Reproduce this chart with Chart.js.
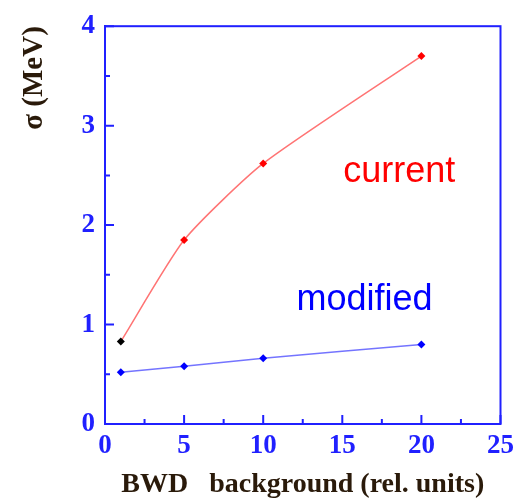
<!DOCTYPE html>
<html>
<head>
<meta charset="utf-8">
<script src="https://cdn.jsdelivr.net/npm/chart.js@4"></script>
<style>
  html, body { margin: 0; padding: 0; background: #fff; }
  #wrap { width: 520px; height: 500px; }
</style>
</head>
<body>
<div id="wrap"><canvas id="sigmaChart" width="520" height="500"></canvas></div>
<script>
// values
const background = [1, 5, 10, 20];
const sigmaCurrent = [0.83, 1.85, 2.62, 3.70];
const sigmaModified = [0.52, 0.58, 0.66, 0.80];
const seriesNames = ['current', 'modified'];

const axisBlue = '#2020ff';
const titleColor = '#2a1a0a';

function toPoints(xs, ys) {
    return xs.map((x, i) => ({ x: x, y: ys[i] }));
}

// inward major/minor ticks + closed box, like the original plot
const frameTicks = {
    id: 'frameTicks',
    afterDatasetsDraw(chart) {
        const ctx = chart.ctx;
        const area = chart.chartArea;
        const xs = chart.scales.x;
        const ys = chart.scales.y;
        ctx.save();
        ctx.strokeStyle = axisBlue;
        ctx.lineWidth = 2;
        ctx.strokeRect(area.left, area.top, area.right - area.left, area.bottom - area.top);
        ctx.beginPath();
        for (let v = 0; v <= 25; v += 2.5) {
            const px = xs.getPixelForValue(v);
            const len = (v % 5 === 0) ? 9 : 5;
            ctx.moveTo(px, area.bottom);
            ctx.lineTo(px, area.bottom - len);
        }
        for (let v = 0; v <= 4; v += 0.5) {
            const py = ys.getPixelForValue(v);
            const len = (v % 1 === 0) ? 9 : 5;
            ctx.moveTo(area.left, py);
            ctx.lineTo(area.left + len, py);
        }
        ctx.stroke();

        // series labels inside the plot
        ctx.font = '36px "Liberation Sans", Arial, sans-serif';
        ctx.textAlign = 'center';
        ctx.textBaseline = 'middle';
        ctx.fillStyle = '#ff0000';
        ctx.fillText(seriesNames[0], xs.getPixelForValue(18.6), ys.getPixelForValue(2.53));
        ctx.fillStyle = '#0000ff';
        ctx.fillText(seriesNames[1], xs.getPixelForValue(16.4), ys.getPixelForValue(1.25));
        ctx.restore();
    }
};

const data = {
    datasets: [
        {
            label: seriesNames[0],
            data: toPoints(background, sigmaCurrent),
            showLine: true,
            tension: 0.2,
            borderColor: 'rgba(255, 70, 70, 0.75)',
            borderWidth: 1.5,
            pointStyle: 'rectRot',
            pointRadius: 4,
            pointBorderWidth: 0,
            pointBackgroundColor: ['#000000', '#ff0000', '#ff0000', '#ff0000']
        },
        {
            label: seriesNames[1],
            data: toPoints(background, sigmaModified),
            showLine: true,
            tension: 0.2,
            borderColor: 'rgba(70, 70, 255, 0.75)',
            borderWidth: 1.5,
            pointStyle: 'rectRot',
            pointRadius: 4,
            pointBorderWidth: 0,
            pointBackgroundColor: '#0000ff'
        }
    ]
};

const config = {
    type: 'scatter',
    data: data,
    plugins: [frameTicks],
    options: {
        responsive: false,
        animation: false,
        layout: { padding: { left: 0, right: 15, top: 20, bottom: 0 } },
        plugins: {
            legend: { display: false },
            tooltip: { enabled: false }
        },
        scales: {
            x: {
                type: 'linear',
                min: 0,
                max: 25,
                ticks: {
                    stepSize: 5,
                    padding: 6,
                    color: axisBlue,
                    font: { family: '"Liberation Serif", "Times New Roman", serif', size: 27, weight: 'bold' }
                },
                grid: { drawOnChartArea: false, drawTicks: false },
                border: { display: true, color: axisBlue, width: 2 },
                title: {
                    display: true,
                    text: 'BWD   background (rel. units)',
                    color: titleColor,
                    padding: { top: 0, bottom: 0 },
                    font: { family: '"Liberation Serif", "Times New Roman", serif', size: 28, weight: 'bold', lineHeight: 1.1 }
                },
                afterFit(scale) { scale.height = 76; }
            },
            y: {
                min: 0,
                max: 4,
                ticks: {
                    stepSize: 1,
                    padding: 10,
                    color: axisBlue,
                    font: { family: '"Liberation Serif", "Times New Roman", serif', size: 27, weight: 'bold' }
                },
                grid: { drawOnChartArea: false, drawTicks: false },
                border: { display: true, color: axisBlue, width: 2 },
                title: {
                    display: true,
                    text: 'σ (MeV)',
                    align: 'end',
                    color: titleColor,
                    padding: { top: 19, bottom: 0 },
                    font: { family: '"Liberation Serif", "Times New Roman", serif', size: 29, weight: 'bold', lineHeight: 1.1 }
                },
                afterFit(scale) { scale.width = 105; }
            }
        }
    }
};

new Chart(document.getElementById('sigmaChart').getContext('2d'), config);
</script>
</body>
</html>
